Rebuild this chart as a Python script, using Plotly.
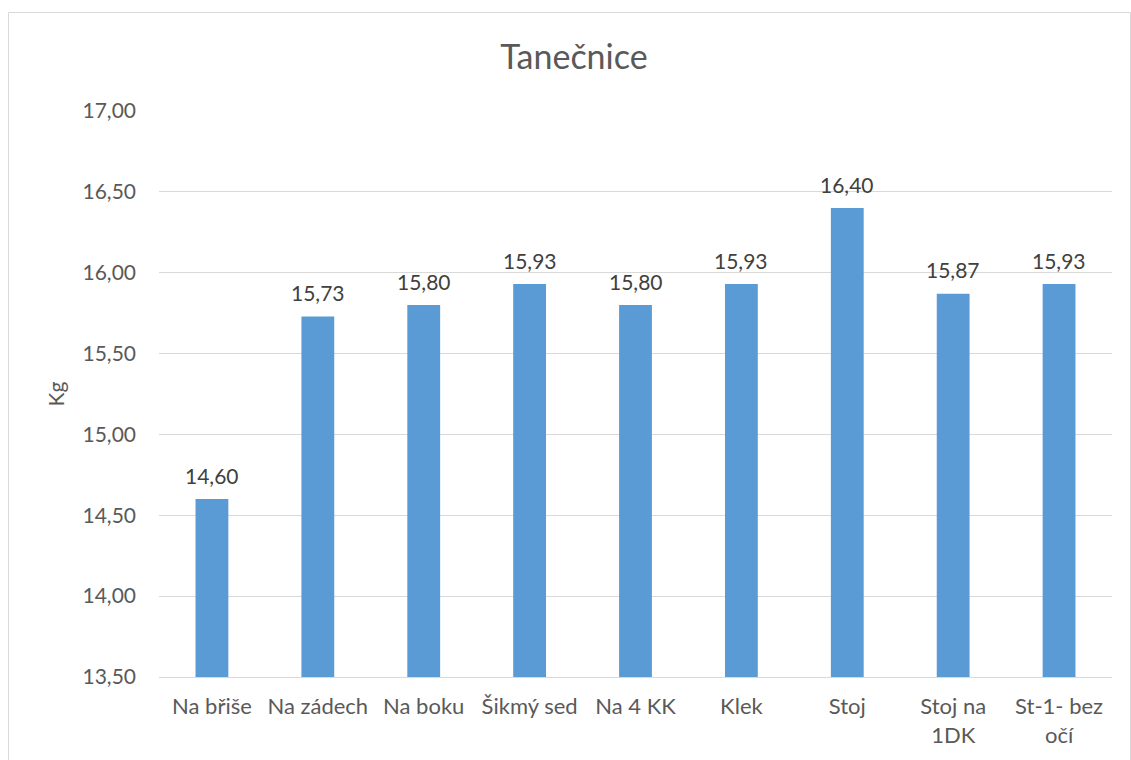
import plotly.graph_objects as go

# Categories and measured values (kg)
categories = ["Na břiše", "Na zádech", "Na boku", "Šikmý sed", "Na 4 KK",
              "Klek", "Stoj", "Stoj na<br>1DK", "St-1- bez<br>očí"]
values = [14.60, 15.73, 15.80, 15.93, 15.80, 15.93, 16.40, 15.87, 15.93]
y_ticks = [13.5, 14.0, 14.5, 15.0, 15.5, 16.0, 16.5, 17.0]

W, H = 1131, 760
L, R, T, B = 159, 1112, 111, 677

def fmt(v):
    return f"{v:.2f}".replace(".", ",")

text_color = "#595959"
font_family = "Lato, 'Open Sans', sans-serif"

fig = go.Figure(
    go.Bar(
        x=categories,
        y=values,
        marker=dict(color="#5B9BD5", line=dict(width=0)),
        cliponaxis=False,
    )
)

# value labels above each bar
for c, v in zip(categories, values):
    fig.add_annotation(x=c, y=v, text=fmt(v), showarrow=False,
                       yanchor="middle", yshift=24,
                       font=dict(size=21, color="#404040", family=font_family))

pw, ph = R - L, B - T
fig.add_shape(
    type="rect", xref="paper", yref="paper",
    x0=(8.5 - L) / pw, x1=(1130.5 - L) / pw,
    y0=(B - 780) / ph, y1=(B - 12.5) / ph,
    line=dict(color="#D9D9D9", width=1), fillcolor="rgba(0,0,0,0)",
    layer="below",
)

fig.update_layout(
    width=W, height=H,
    margin=dict(l=L, r=W - R, t=T, b=H - B),
    paper_bgcolor="white", plot_bgcolor="white",
    showlegend=False,
    bargap=0.69,
    font=dict(family=font_family, color=text_color, size=21),
    title=dict(text="Tanečnice", x=574 / W, xanchor="center", xref="container",
               y=1 - 57 / H, yanchor="middle",
               font=dict(size=34, color=text_color, family=font_family)),
    xaxis=dict(showgrid=False, showline=True, linecolor="#D9D9D9", linewidth=1,
               ticks="", ticklabelstandoff=10,
               tickfont=dict(size=22, color=text_color)),
    yaxis=dict(range=[13.5, 17.0], tickvals=y_ticks,
               ticktext=[fmt(v) for v in y_ticks],
               showgrid=True, gridcolor="#D9D9D9", gridwidth=1,
               zeroline=False, showline=False, ticks="",
               ticklabelstandoff=22,
               tickfont=dict(size=21, color=text_color),
               title=dict(text="Kg", font=dict(size=21, color=text_color),
                          standoff=12)),
)

fig.write_html("out.html")
